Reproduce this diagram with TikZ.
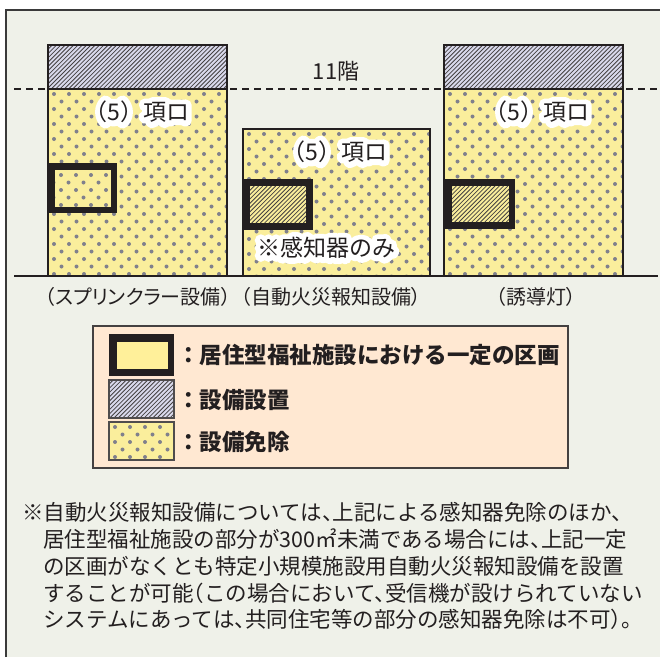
\documentclass[tikz,border=0pt]{standalone}
\usepackage{fontspec}
\setmainfont{Noto Sans CJK JP}
\newfontfamily\haltfont{Noto Sans CJK JP}[RawFeature=+halt]
\newfontfamily\paltfont{Noto Sans CJK JP}[RawFeature=+palt]
\definecolor{framebg}{HTML}{EFF1E9}
\definecolor{framec}{HTML}{3A3A3A}
\definecolor{ink}{HTML}{231F20}
\definecolor{ylw}{HTML}{FAEE9C}
\definecolor{ylwb}{HTML}{FFF09A}
\definecolor{dotc}{HTML}{80808C}
\definecolor{lav}{HTML}{D9D9EC}
\definecolor{peach}{HTML}{FFE8D2}
\tikzset{
  hatchline/.style={draw=ink!85, line width=0.8pt},
  outl/.style={draw=ink, line width=1.8pt},
  swatchline/.style={draw=ink!80, line width=1.3pt},
  lab/.style={inner sep=0pt},
  capt/.style={font=\paltfont\fontsize{20}{24}\selectfont, inner sep=0pt, text=ink},
  legtext/.style={font=\fontsize{22.5}{26}\selectfont\bfseries, inner sep=0pt, text=ink, anchor=west},
  notetext/.style={font=\haltfont\fontsize{21.5}{25}\selectfont, inner sep=0pt, text=ink, anchor=west},
}
\newcommand\dotregion[4]{%
  \begin{scope}
    \clip (#1,#2) rectangle (#3,#4);
    \fill[ylw] (#1,#2) rectangle (#3,#4);
    \pgfmathtruncatemacro\nrows{(#4-#2)/7.5+1}
    \pgfmathtruncatemacro\ncols{(#3-#1)/15+1}
    \foreach \ri in {0,...,\nrows}{
      \foreach \ci in {0,...,\ncols}{
        \pgfmathsetmacro\xx{#1+6+15*\ci-7.5*mod(\ri,2)}
        \pgfmathsetmacro\yy{#2+5+7.5*\ri}
        \fill[dotc] (\xx,\yy) circle[radius=2pt];
      }}
  \end{scope}}
\newcommand\hatchregion[5]{%
  \begin{scope}
    \clip (#1,#2) rectangle (#3,#4);
    \fill[#5] (#1,#2) rectangle (#3,#4);
    \pgfmathsetmacro\hh{#4-#2}
    \pgfmathtruncatemacro\nk{(#3-#1+\hh)/4.3+1}
    \foreach \k in {0,...,\nk}{
      \pgfmathsetmacro\xa{#1-\hh+4.3*\k}
      \draw[hatchline] (\xa,#4) -- ++(\hh,-\hh);
    }
  \end{scope}}
% name, x, y, font size, text  (white outline halo: text render mode fill+stroke)
\newcommand\halonode[5]{%
  \node[lab, text=white, font=\fontsize{#4}{#4}\selectfont] (#1-halo) at (#2,#3)
    {\special{pdf:literal direct 2 Tr 11 w 1 j 1 J 1 1 1 RG}#5};
  \node[lab, text=ink, font=\fontsize{#4}{#4}\selectfont] (#1) at (#2,#3) {\special{pdf:literal direct 0 Tr}#5};}
\begin{document}
\begin{tikzpicture}[x=1pt,y=-1pt]
\useasboundingbox (0,0) rectangle (660,657);
\fill[white] (0,0) rectangle (660,657);
\fill[framebg] (6,10) rectangle (660,657);
\draw[framec, line width=1.2pt] (6,657) -- (6,10) -- (660,10);

% floor line (11F)
\coordinate (dl) at (14,89);
\coordinate (dr) at (660,89);
\draw[ink, line width=1.3pt, dash pattern=on 7pt off 5pt] (dl) -- (dr);
\node[lab, text=ink, font=\fontsize{22}{26}\selectfont] (floor) at (336,71) {11階};

% left building (sprinkler)
\dotregion{48}{89}{227}{276}
\hatchregion{48}{45}{227}{89}{lav}
\fill[ink] (48,163) rectangle (117,213);
\dotregion{55}{170}{111}{207}
\draw[outl] (48,45) rectangle (227,276);
\draw[outl] (48,89) -- (227,89);

% middle building (fire alarm)
\dotregion{243}{129}{430}{276}
\fill[ink] (243,179) rectangle (313,230);
\hatchregion{250}{186}{306}{223}{ylw}
\draw[outl] (243,129) rectangle (430,276);

% right building (guide light)
\dotregion{444}{89}{623}{276}
\hatchregion{444}{45}{623}{89}{lav}
\fill[ink] (444,179) rectangle (515,229);
\hatchregion{452}{186}{509}{222}{ylw}
\draw[outl] (444,45) rectangle (623,276);
\draw[outl] (444,89) -- (623,89);

% ground line
\coordinate (gl) at (14,276);
\coordinate (gr) at (658,276);
\draw[ink, line width=1.5pt] (gl) -- (gr);

% halo labels
\halonode{la}{137}{112}{23}{（5）項ロ}
\halonode{lb}{335}{152}{23}{（5）項ロ}
\halonode{lc}{537}{112}{23}{（5）項ロ}
\halonode{ld}{326}{248}{23}{※感知器のみ}

% captions
\node[capt] (ca) at (138,297) {（スプリンクラー設備）};
\node[capt] (cb) at (331,297) {（自動火災報知設備）};
\node[capt] (cc) at (536,297) {（誘導灯）};

% legend
\draw[fill=peach, draw=ink!85, line width=1.3pt] (93,326) rectangle (568,468);
\fill[ink] (109,334) rectangle (174,376);
\fill[ylwb] (116.5,341.5) rectangle (167.5,368.5);
\hatchregion{109}{380}{174}{418}{lav}
\draw[swatchline] (109,380) rectangle (174,418);
\dotregion{109}{422}{174}{460}
\draw[swatchline] (109,422) rectangle (174,460);
\node[legtext] (l1) at (177,355) {：居住型福祉施設における一定の区画};
\node[legtext] (l2) at (177,400) {：設備設置};
\node[legtext] (l3) at (177,442) {：設備免除};

% note
\node[notetext] (n1) at (22,512) {※自動火災報知設備については、上記による感知器免除のほか、};
\node[notetext] (n2) at (43,539) {居住型福祉施設の部分が300㎡未満である場合には、上記一定};
\node[notetext] (n3) at (43,566) {の区画がなくとも特定小規模施設用自動火災報知設備を設置};
\node[notetext] (n4) at (43,593) {することが可能（この場合において、受信機が設けられていない};
\node[notetext] (n5) at (43,619) {システムにあっては、共同住宅等の部分の感知器免除は不可）。};
\end{tikzpicture}
\end{document}
